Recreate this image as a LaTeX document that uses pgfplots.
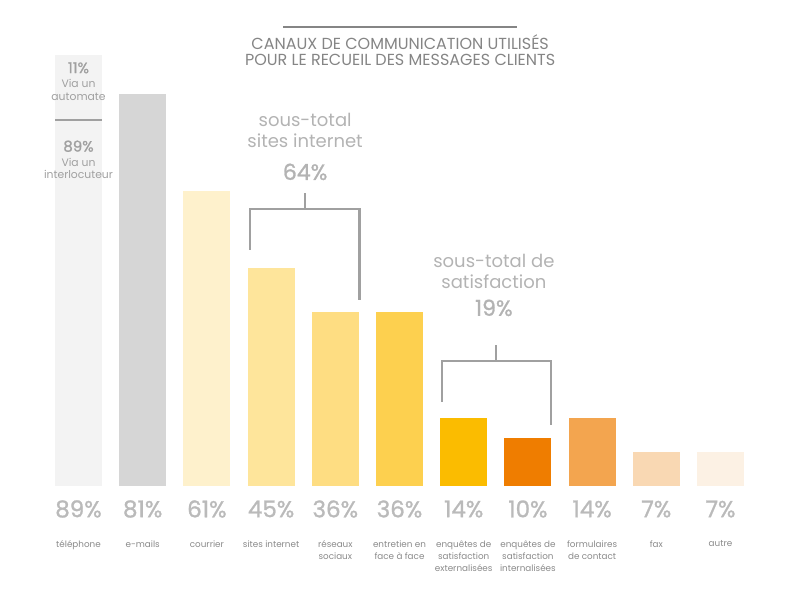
\documentclass[border=0pt]{standalone}
\usepackage{fontspec}
\setmainfont{Poppins}
\newfontfamily\semib[FakeBold=1.2]{Poppins}
\usepackage{pgfplots}
\pgfplotsset{compat=1.18}

\definecolor{c0}{HTML}{F3F3F3}
\definecolor{c1}{HTML}{D6D6D6}
\definecolor{c2}{HTML}{FEF1CC}
\definecolor{c3}{HTML}{FEE59B}
\definecolor{c4}{HTML}{FEDD82}
\definecolor{c5}{HTML}{FDD04F}
\definecolor{c6}{HTML}{FBBC00}
\definecolor{c7}{HTML}{EF7D00}
\definecolor{c8}{HTML}{F3A54F}
\definecolor{c9}{HTML}{F9D8B3}
\definecolor{c10}{HTML}{FCF1E4}
\definecolor{titlegray}{HTML}{858585}
\definecolor{valgray}{HTML}{BABABA}
\definecolor{catgray}{HTML}{8A8A8A}
\definecolor{subgray}{HTML}{B3B3B3}
\definecolor{linegray}{HTML}{A0A0A0}

\pgfplotsset{
  onebar/.style={ybar, bar width=47pt, bar shift=0pt, draw=none},
}

\begin{document}
\begin{tikzpicture}
\path[use as bounding box] (0,0) rectangle (798pt,600pt);
\begin{axis}[
  at={(46.4pt,114pt)}, anchor=south west,
  scale only axis, width=706.2pt, height=484pt,
  xmin=-0.5, xmax=10.5, ymin=0, ymax=100,
  clip=false,
  axis line style={draw=none}, tick style={draw=none},
  ytick=\empty,
  xtick={0,...,10},
  xticklabels={t\'el\'ephone, e-mails, courrier, sites internet,
    {r\'eseaux\\sociaux}, {entretien en\\face \`a face},
    {enqu\^etes de\\satisfaction\\externalis\'ees},
    {enqu\^etes de\\satisfaction\\internalis\'ees},
    {formulaires\\de contact}, fax, autre},
  xticklabel style={align=center, font=\fontsize{8.8}{12}\selectfont,
    text=catgray, anchor=north, yshift=-51pt},
]
\addplot[onebar, fill=c0] coordinates {(0,89)};
\addplot[onebar, fill=c1] coordinates {(1,81)};
\addplot[onebar, fill=c2] coordinates {(2,61)};
\addplot[onebar, fill=c3] coordinates {(3,45)};
\addplot[onebar, fill=c4] coordinates {(4,36)};
\addplot[onebar, fill=c5] coordinates {(5,36)};
\addplot[onebar, fill=c6] coordinates {(6,14)};
\addplot[onebar, fill=c7] coordinates {(7,10)};
\addplot[onebar, fill=c8] coordinates {(8,14)};
\addplot[onebar, fill=c9] coordinates {(9,7)};
\addplot[onebar, fill=c10] coordinates {(10,7)};

% percentages under the bars
\addplot[draw=none, mark=none, point meta=explicit symbolic,
  nodes near coords={\pgfplotspointmeta\%},
  nodes near coords align=center,
  every node near coord/.append style={anchor=center, yshift=-23pt,
    font=\semib\fontsize{23}{25}\selectfont, text=valgray}]
  coordinates {(0,0)[89] (1,0)[81] (2,0)[61] (3,0)[45] (4,0)[36] (5,0)[36]
               (6,0)[14] (7,0)[10] (8,0)[14] (9,0)[7] (10,0)[7]};

% title
\draw[titlegray, line width=2pt] (axis cs:3.19,94.8) -- (axis cs:6.83,94.8);
\node[align=center, text=titlegray, font=\fontsize{16}{16.5}\selectfont]
  at (axis cs:5.01,90.1) {CANAUX DE COMMUNICATION UTILIS\'ES\\POUR LE RECUEIL DES MESSAGES CLIENTS};

% telephone split
\draw[linegray, line width=1.8pt] (axis cs:-0.366,75.6) -- (axis cs:0.366,75.6);
\begin{scope}[every node/.style={inner sep=0pt, text=linegray}]
\node[font=\semib\fontsize{15}{16}\selectfont] at (axis cs:0,86.4) {11\%};
\node[align=center, font=\fontsize{10.8}{12.5}\selectfont] at (axis cs:0,81.8) {Via un\\automate};
\node[font=\semib\fontsize{15}{16}\selectfont] at (axis cs:0,70.2) {89\%};
\node[align=center, font=\fontsize{10.8}{12.5}\selectfont] at (axis cs:0,65.6) {Via un\\interlocuteur};
\end{scope}

% sous-total sites internet
\node[align=center, text=subgray, font=\fontsize{18}{21}\selectfont] at (axis cs:3.53,73.45) {sous-total\\sites internet};
\node[text=subgray, font=\semib\fontsize{22}{24}\selectfont] at (axis cs:3.53,64.9) {64\%};
\draw[linegray, line width=2.5pt] (axis cs:3.53,60.5) -- (axis cs:3.53,57.2);
\draw[linegray, line width=2.5pt] (axis cs:2.67,48.8) -- (axis cs:2.67,57.2) -- (axis cs:4.38,57.2) -- (axis cs:4.38,38.4);

% sous-total satisfaction
\node[align=center, text=subgray, font=\fontsize{18}{21}\selectfont] at (axis cs:6.47,44.35) {sous-total de\\satisfaction};
\node[text=subgray, font=\semib\fontsize{22}{24}\selectfont] at (axis cs:6.47,36.8) {19\%};
\draw[linegray, line width=2.5pt] (axis cs:6.50,29.1) -- (axis cs:6.50,25.8);
\draw[linegray, line width=2.5pt] (axis cs:5.66,17.4) -- (axis cs:5.66,25.8) -- (axis cs:7.36,25.8) -- (axis cs:7.36,12.6);
\end{axis}
\end{tikzpicture}
\end{document}
